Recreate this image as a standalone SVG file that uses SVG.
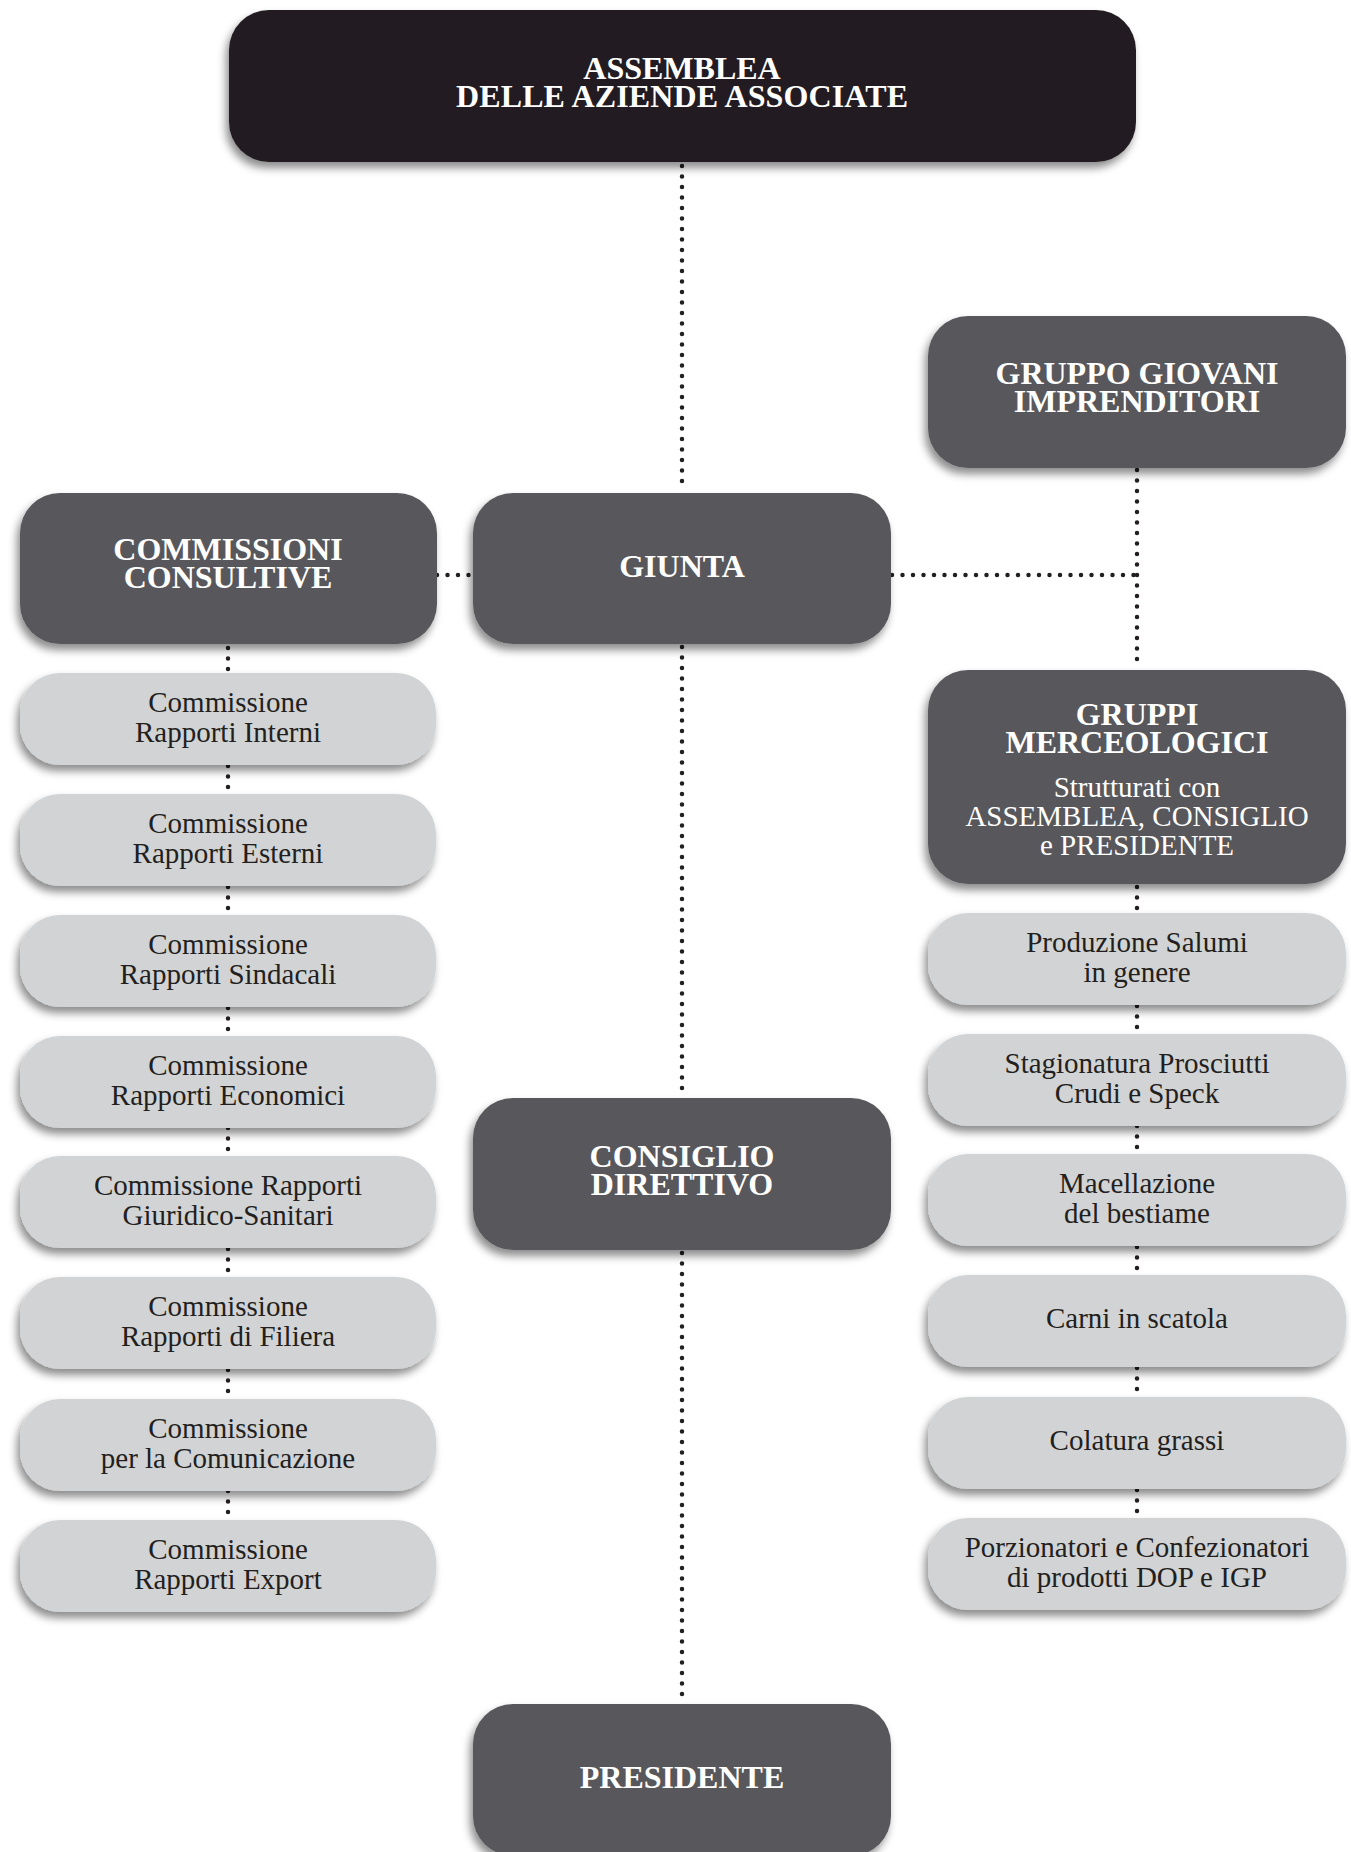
<svg xmlns="http://www.w3.org/2000/svg" width="1351" height="1852" viewBox="0 0 1351 1852">
<defs>
<filter id="sh" x="-10%" y="-20%" width="120%" height="150%">
<feDropShadow dx="-3" dy="6" stdDeviation="4" flood-color="#000" flood-opacity="0.45"/>
</filter>
<style>
.blk{fill:#231f20;filter:url(#sh)}
.dk{fill:#58595b;filter:url(#sh)}
.lt{fill:#d1d3d4;filter:url(#sh)}
.hb{font-family:"Liberation Serif","Times New Roman",serif;font-weight:bold;font-size:32px;fill:#fff;text-anchor:middle}
.hr{font-family:"Liberation Serif","Times New Roman",serif;font-size:29px;fill:#fff;text-anchor:middle}
.tx{font-family:"Liberation Serif","Times New Roman",serif;font-size:29px;fill:#231f20;text-anchor:middle}
.dot{stroke:#231f20;stroke-width:4.5;stroke-linecap:round;stroke-dasharray:0 10.5;fill:none}
</style>
</defs>
<rect width="1351" height="1852" fill="#fff"/>
<g id="connectors">
<path class="dot" d="M682 166V491"/>
<path class="dot" d="M437 575H473"/>
<path class="dot" d="M892 575H1137"/>
<path class="dot" d="M1137 470V669"/>
<path class="dot" d="M682 647V1097"/>
<path class="dot" d="M682 1253V1703"/>
<path class="dot" d="M228 648V673M228 766V794M228 887V915M228 1008V1036M228 1128V1156M228 1249V1277M228 1370V1399M228 1491V1520"/>
<path class="dot" d="M1137 887V913M1137 1006V1034M1137 1126V1154M1137 1247V1275M1137 1368V1397M1137 1490V1518"/>
</g>
<g id="assemblea"><rect class="blk" x="229" y="10" width="907" height="152" rx="40"/>
<text class="hb" font-size="31"><tspan x="682" y="79">ASSEMBLEA</tspan><tspan x="682" y="107" textLength="452">DELLE AZIENDE ASSOCIATE</tspan></text></g>
<g id="giovani"><rect class="dk" x="928" y="316" width="418" height="152" rx="40"/>
<text class="hb"><tspan x="1137" y="384">GRUPPO GIOVANI</tspan><tspan x="1137" y="412">IMPRENDITORI</tspan></text></g>
<g id="commissioni"><rect class="dk" x="20" y="493" width="417" height="151" rx="40"/>
<text class="hb"><tspan x="228" y="560">COMMISSIONI</tspan><tspan x="228" y="588">CONSULTIVE</tspan></text></g>
<g id="giunta"><rect class="dk" x="473" y="493" width="418" height="151" rx="40"/>
<text class="hb" x="682" y="577">GIUNTA</text></g>
<g id="gruppi"><rect class="dk" x="928" y="670" width="418" height="214" rx="40"/>
<text class="hb"><tspan x="1137" y="725">GRUPPI</tspan><tspan x="1137" y="753">MERCEOLOGICI</tspan></text>
<text class="hr"><tspan x="1137" y="797">Strutturati con</tspan><tspan x="1137" y="826">ASSEMBLEA, CONSIGLIO</tspan><tspan x="1137" y="855">e PRESIDENTE</tspan></text></g>
<g id="consiglio"><rect class="dk" x="473" y="1098" width="418" height="152" rx="40"/>
<text class="hb"><tspan x="682" y="1167">CONSIGLIO</tspan><tspan x="682" y="1195">DIRETTIVO</tspan></text></g>
<g id="presidente"><rect class="dk" x="473" y="1704" width="418" height="152" rx="40"/>
<text class="hb" x="682" y="1788">PRESIDENTE</text></g>
<g id="c1"><rect class="lt" x="20" y="673" width="416" height="92" rx="40"/><text class="tx"><tspan x="228" y="712">Commissione</tspan><tspan x="228" y="742">Rapporti Interni</tspan></text></g>
<g id="c2"><rect class="lt" x="20" y="794" width="416" height="92" rx="40"/><text class="tx"><tspan x="228" y="833">Commissione</tspan><tspan x="228" y="863">Rapporti Esterni</tspan></text></g>
<g id="c3"><rect class="lt" x="20" y="915" width="416" height="92" rx="40"/><text class="tx"><tspan x="228" y="954">Commissione</tspan><tspan x="228" y="984">Rapporti Sindacali</tspan></text></g>
<g id="c4"><rect class="lt" x="20" y="1036" width="416" height="92" rx="40"/><text class="tx"><tspan x="228" y="1075">Commissione</tspan><tspan x="228" y="1105">Rapporti Economici</tspan></text></g>
<g id="c5"><rect class="lt" x="20" y="1156" width="416" height="92" rx="40"/><text class="tx"><tspan x="228" y="1195">Commissione Rapporti</tspan><tspan x="228" y="1225">Giuridico-Sanitari</tspan></text></g>
<g id="c6"><rect class="lt" x="20" y="1277" width="416" height="92" rx="40"/><text class="tx"><tspan x="228" y="1316">Commissione</tspan><tspan x="228" y="1346">Rapporti di Filiera</tspan></text></g>
<g id="c7"><rect class="lt" x="20" y="1399" width="416" height="92" rx="40"/><text class="tx"><tspan x="228" y="1438">Commissione</tspan><tspan x="228" y="1468">per la Comunicazione</tspan></text></g>
<g id="c8"><rect class="lt" x="20" y="1520" width="416" height="92" rx="40"/><text class="tx"><tspan x="228" y="1559">Commissione</tspan><tspan x="228" y="1589">Rapporti Export</tspan></text></g>
<g id="g1"><rect class="lt" x="928" y="913" width="418" height="92" rx="40"/><text class="tx"><tspan x="1137" y="952">Produzione Salumi</tspan><tspan x="1137" y="982">in genere</tspan></text></g>
<g id="g2"><rect class="lt" x="928" y="1034" width="418" height="92" rx="40"/><text class="tx"><tspan x="1137" y="1073">Stagionatura Prosciutti</tspan><tspan x="1137" y="1103">Crudi e Speck</tspan></text></g>
<g id="g3"><rect class="lt" x="928" y="1154" width="418" height="92" rx="40"/><text class="tx"><tspan x="1137" y="1193">Macellazione</tspan><tspan x="1137" y="1223">del bestiame</tspan></text></g>
<g id="g4"><rect class="lt" x="928" y="1275" width="418" height="92" rx="40"/><text class="tx" x="1137" y="1328">Carni in scatola</text></g>
<g id="g5"><rect class="lt" x="928" y="1397" width="418" height="92" rx="40"/><text class="tx" x="1137" y="1450">Colatura grassi</text></g>
<g id="g6"><rect class="lt" x="928" y="1518" width="418" height="92" rx="40"/><text class="tx"><tspan x="1137" y="1557">Porzionatori e Confezionatori</tspan><tspan x="1137" y="1587">di prodotti DOP e IGP</tspan></text></g>
</svg>
